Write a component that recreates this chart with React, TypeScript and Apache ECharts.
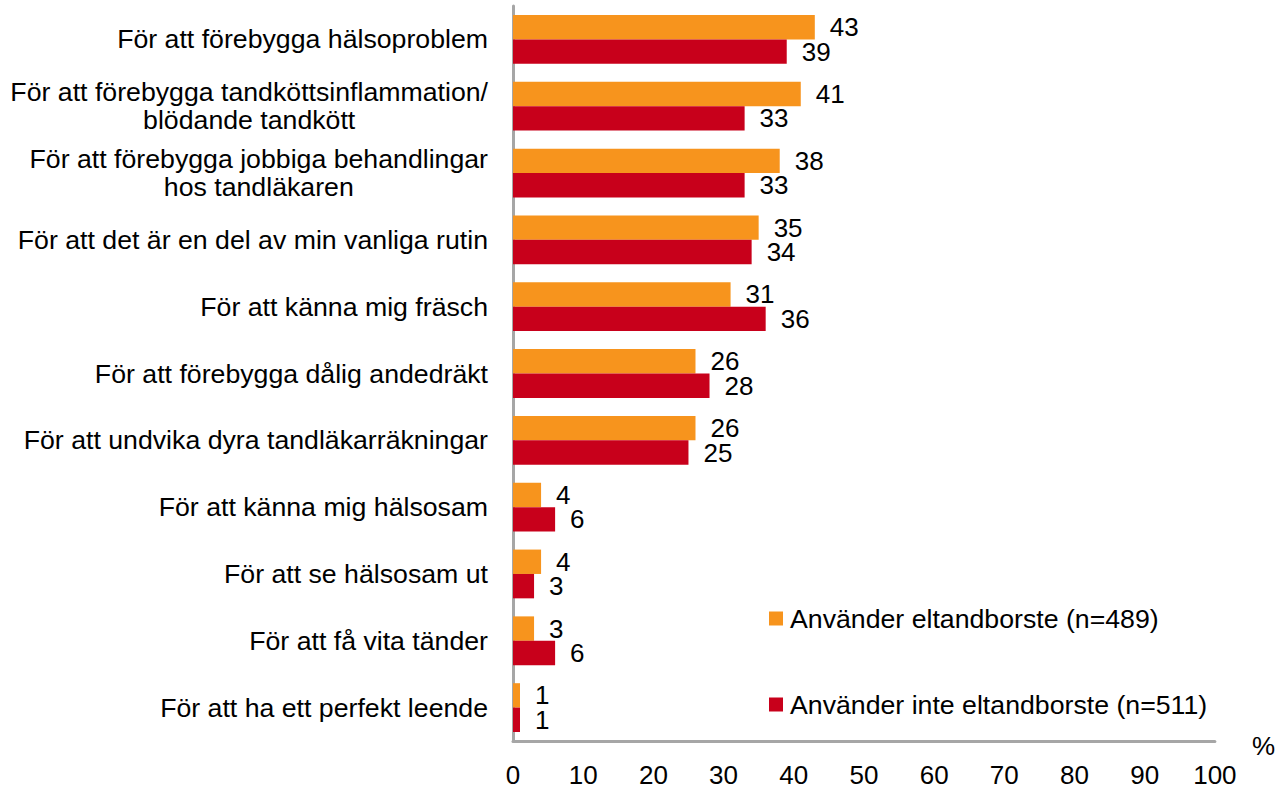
import React, { useEffect, useRef } from "react";
import * as echarts from "echarts";

const categories = [
  "För att förebygga hälsoproblem",
  "För att förebygga tandköttsinflammation/\nblödande tandkött",
  "För att förebygga jobbiga behandlingar\nhos tandläkaren",
  "För att det är en del av min vanliga rutin",
  "För att känna mig fräsch",
  "För att förebygga dålig andedräkt",
  "För att undvika dyra tandläkarräkningar",
  "För att känna mig hälsosam",
  "För att se hälsosam ut",
  "För att få vita tänder",
  "För att ha ett perfekt leende",
];

const seriesNames = [
  "Använder eltandborste (n=489)",
  "Använder inte eltandborste (n=511)",
];

const electricValues = [43, 41, 38, 35, 31, 26, 26, 4, 4, 3, 1];
const manualValues = [39, 33, 33, 34, 36, 28, 25, 6, 3, 6, 1];

const xTicks = { min: 0, max: 100, interval: 10 };

const FONT = "'Liberation Sans', Arial, sans-serif";
const FS = 26.7;
const NFS = 26;

export default function App() {
  const ref = useRef<HTMLDivElement>(null);

  useEffect(() => {
    if (!ref.current) return;
    const chart = echarts.init(ref.current, undefined, { renderer: "svg" });
    const labelStyle = {
      show: true,
      position: "right",
      distance: 15,
      color: "#000",
      fontSize: NFS,
      lineHeight: 20,
      fontFamily: FONT,
    };
    chart.setOption({
      animation: false,
      textStyle: { fontFamily: FONT },
      grid: { left: 513, right: 63, top: 6, bottom: 46, containLabel: false },
      legend: {
        orient: "vertical",
        left: 769,
        top: 605,
        padding: 0,
        itemWidth: 14,
        itemHeight: 14,
        itemGap: 59,
        icon: "rect",
        textStyle: {
          fontSize: FS,
          lineHeight: 20,
          color: "#000",
          fontFamily: FONT,
          padding: [0, 0, 0, 2],
        },
        data: seriesNames,
      },
      xAxis: {
        type: "value",
        min: xTicks.min,
        max: xTicks.max,
        interval: xTicks.interval,
        name: "%",
        nameLocation: "end",
        nameGap: 37,
        nameTextStyle: {
          fontSize: NFS,
          lineHeight: 10,
          color: "#000",
          fontFamily: FONT,
          verticalAlign: "top",
        },
        axisLine: { show: true, lineStyle: { color: "#a6a6a6", width: 3 } },
        axisTick: { show: false },
        splitLine: { show: false },
        axisLabel: {
          margin: 24,
          fontSize: NFS,
          lineHeight: 20,
          color: "#000",
          fontFamily: FONT,
        },
      },
      yAxis: {
        type: "category",
        inverse: true,
        data: categories,
        axisLine: { show: true, lineStyle: { color: "#a6a6a6", width: 3 } },
        axisTick: { show: false },
        axisLabel: {
          margin: 25,
          fontSize: FS,
          lineHeight: 28,
          color: "#000",
          fontFamily: FONT,
          formatter: (v: string) =>
            v
              .split("\n")
              .map((line) => `{c|${line}}`)
              .join("\n"),
          rich: {
            c: {
              align: "center",
              fontSize: FS,
              lineHeight: 28,
              color: "#000",
              fontFamily: FONT,
            },
          },
        },
      },
      series: [
        {
          name: seriesNames[0],
          type: "bar",
          data: electricValues,
          itemStyle: { color: "#F7941D" },
          barGap: "0%",
          barCategoryGap: "27%",
          label: labelStyle,
        },
        {
          name: seriesNames[1],
          type: "bar",
          data: manualValues,
          itemStyle: { color: "#C8001B" },
          barGap: "0%",
          barCategoryGap: "27%",
          label: labelStyle,
        },
      ],
    });
    return () => chart.dispose();
  }, []);

  return (
    <div
      ref={ref}
      style={{ position: "absolute", left: 0, top: 0, width: 1278, height: 788 }}
    />
  );
}
